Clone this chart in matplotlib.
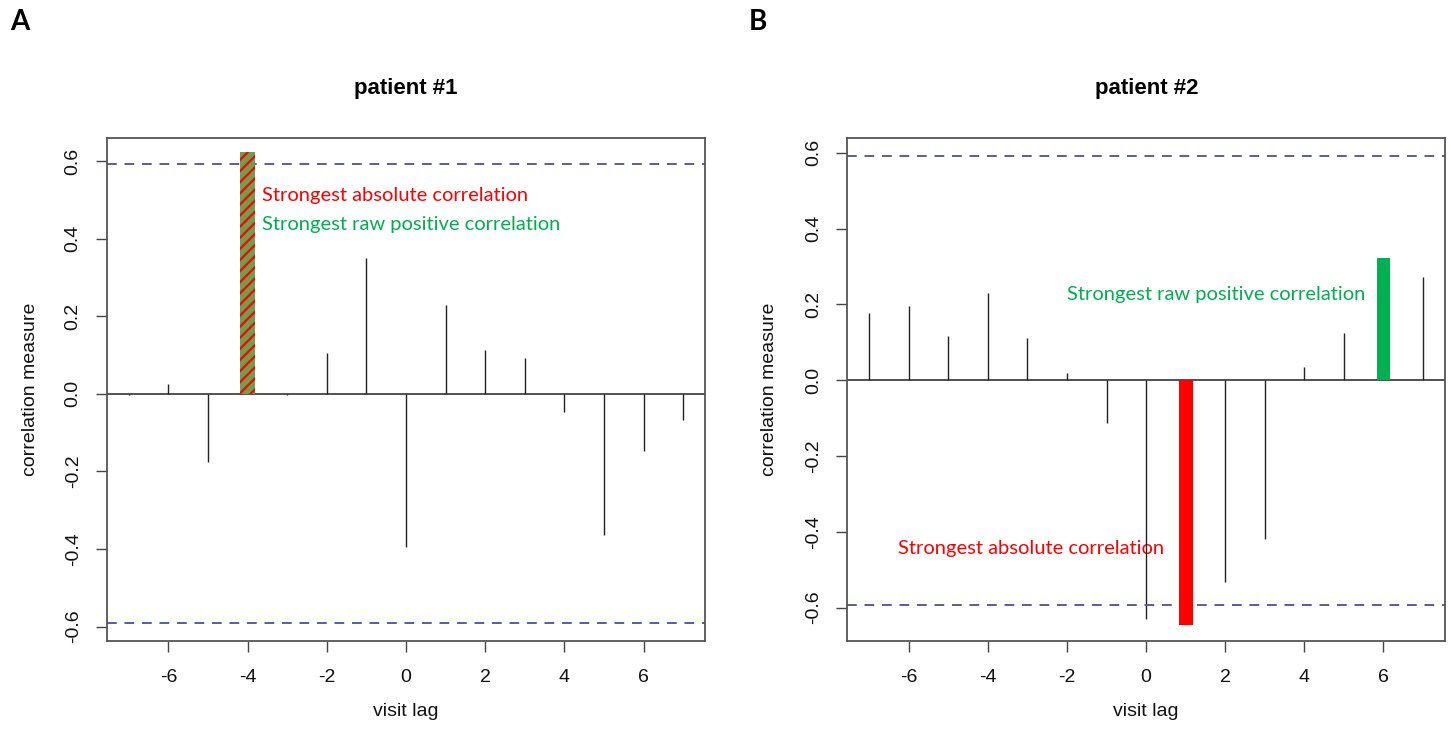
import numpy as np
import matplotlib.pyplot as plt

plt.rcParams['axes.unicode_minus'] = False
plt.rcParams['font.family'] = ['Liberation Sans', 'DejaVu Sans']
plt.rcParams['hatch.linewidth'] = 1.6

lags = list(range(-7, 8))

# patient 1 cross-correlation by visit lag
corr_p1 = [-0.004, 0.024, -0.176, 0.622, -0.004, 0.106, 0.351, -0.396,
           0.229, 0.112, 0.092, -0.046, -0.363, -0.148, -0.067]
# patient 2
corr_p2 = [0.178, 0.195, 0.117, 0.229, 0.112, 0.020, -0.112, -0.629,
           -0.646, -0.533, -0.418, 0.034, 0.124, 0.322, 0.272]

ci = 0.592
p1_abs_lag = -4      # strongest absolute = strongest positive
p2_abs_lag = 1
p2_pos_lag = 6

red = '#ff0000'
green = '#00b050'
hatch_green = '#6f9f4c'
ci_col = '#5a5aaa'
txt_font = ['Lato', 'DejaVu Sans']

fig = plt.figure(figsize=(14.51, 7.34), dpi=100)
axA = fig.add_axes([0.0735, 0.1263, 0.4126, 0.6861])
axB = fig.add_axes([0.5837, 0.1263, 0.4123, 0.6861])


def base(ax, vals, skip, ylim):
    keep = [(l, v) for l, v in zip(lags, vals) if l not in skip]
    ax.vlines([k[0] for k in keep], 0, [k[1] for k in keep], color='#222222', lw=1.0)
    ax.axhline(0, color='#222222', lw=1.1, zorder=1)
    for c in (ci, -ci):
        ax.axhline(c, color=ci_col, lw=1.4, ls=(0, (5, 4)))
    ax.set_xlim(-7.56, 7.56)
    ax.set_ylim(*ylim)
    ax.set_xticks([-6, -4, -2, 0, 2, 4, 6])
    ax.set_yticks([-0.6, -0.4, -0.2, 0.0, 0.2, 0.4, 0.6])
    ax.set_yticklabels(['%.1f' % t for t in [-0.6, -0.4, -0.2, 0.0, 0.2, 0.4, 0.6]])
    ax.tick_params(direction='out', length=8, width=1, color='#444444',
                   labelsize=14, labelcolor='#111111')
    ax.tick_params(axis='x', pad=12)
    ax.tick_params(axis='y', pad=10)
    for lab in ax.get_yticklabels():
        lab.set_rotation(90)
        lab.set_va('center')
    for s in ax.spines.values():
        s.set_color('#555555')
        s.set_linewidth(1.3)
    ax.set_xlabel('visit lag', fontsize=14, color='#111111')
    ax.set_ylabel('correlation measure', fontsize=14, color='#111111')
    ax.xaxis.set_label_coords(0.5, -0.140)
    ax.xaxis.label.set_va('center')
    ax.yaxis.label.set_va('center')


# panel A
base(axA, corr_p1, [p1_abs_lag], (-0.638, 0.660))
axA.yaxis.set_label_coords(-0.128, 0.5)
axA.bar(p1_abs_lag, corr_p1[lags.index(p1_abs_lag)], width=0.38,
        color=hatch_green, edgecolor=red, hatch='///', lw=0, zorder=3)
axA.text(-3.64, 0.51, 'Strongest absolute correlation', color=red,
         fontsize=14.5, family=txt_font, va='center', ha='left')
axA.text(-3.64, 0.435, 'Strongest raw positive correlation', color=green,
         fontsize=14.5, family=txt_font, va='center', ha='left')

# panel B
base(axB, corr_p2, [p2_abs_lag, p2_pos_lag], (-0.689, 0.640))
axB.yaxis.set_label_coords(-0.129, 0.5)
axB.bar(p2_abs_lag, corr_p2[lags.index(p2_abs_lag)], width=0.36,
        color=red, lw=0, zorder=3)
axB.bar(p2_pos_lag, corr_p2[lags.index(p2_pos_lag)], width=0.33,
        color=green, lw=0, zorder=3)
axB.text(5.55, 0.225, 'Strongest raw positive correlation', color=green,
         fontsize=14.5, family=txt_font, va='center', ha='right')
axB.text(-6.26, -0.443, 'Strongest absolute correlation', color=red,
         fontsize=14.5, family=txt_font, va='center', ha='left', zorder=0)

fig.text(0.2798, 0.880, 'patient #1', fontsize=16, fontweight='bold',
         ha='center', va='center')
fig.text(0.790, 0.880, 'patient #2', fontsize=16, fontweight='bold',
         ha='center', va='center')
fig.text(0.007, 0.970, 'A', fontsize=20, fontweight='bold', family=txt_font,
         ha='left', va='center')
fig.text(0.516, 0.970, 'B', fontsize=20, fontweight='bold', family=txt_font,
         ha='left', va='center')

fig.savefig('out.png', dpi=100)
